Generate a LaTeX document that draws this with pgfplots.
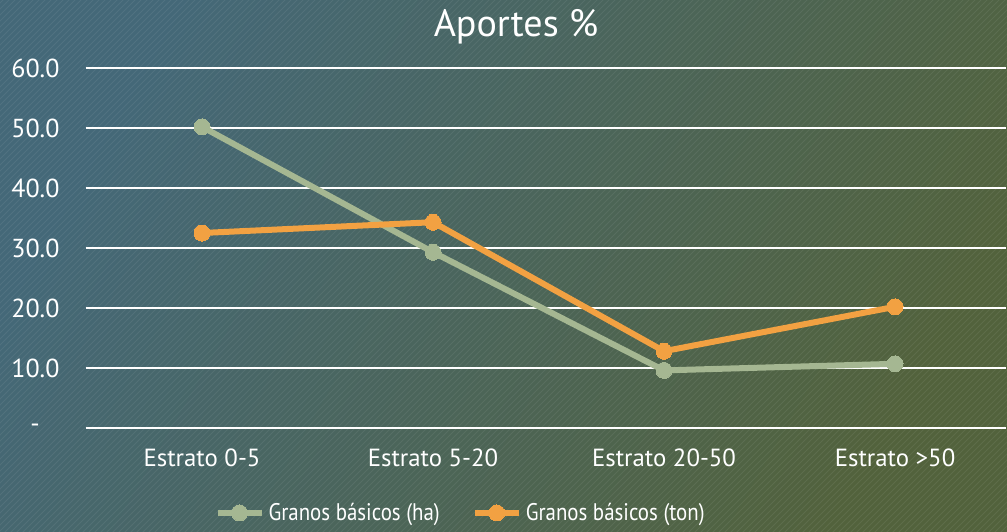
\documentclass[border=0pt]{standalone}
\usepackage{pgfplots}
\pgfplotsset{compat=1.18}
\usepackage{fontspec}
\setmainfont{PT Sans}
\usetikzlibrary{patterns}
\definecolor{bgA}{RGB}{68,104,120}
\definecolor{bgB}{RGB}{82,98,60}
\definecolor{sgreen}{RGB}{165,183,146}
\definecolor{sorange}{RGB}{242,161,66}
\begin{document}
\begin{tikzpicture}
\useasboundingbox (0,0) rectangle (503.5pt,265.5pt);
\shade[shading=axis, top color=bgA, bottom color=bgB, shading angle=60] (0,0) rectangle (503.5pt,265.5pt);
\fill[pattern=north east lines, pattern color=white, opacity=0.07] (0,0) rectangle (503.5pt,265.5pt);
\node[text=white, font=\fontsize{19}{22}\selectfont] at (258pt,252pt) {Aportes \%};
\begin{axis}[
  scale only axis,
  width=459.7pt, height=180pt,
  at={(43.25pt,51.5pt)}, anchor=south west,
  xmin=-0.5, xmax=3.48,
  ymin=0, ymax=60,
  clip=false,
  axis line style={draw=none},
  major tick length=0pt,
  ytick={0,10,20,30,40,50,60},
  yticklabels={-\hphantom{.0},10.0,20.0,30.0,40.0,50.0,60.0},
  xtick={0,1,2,3},
  xticklabels={Estrato 0-5,Estrato 5-20,Estrato 20-50,Estrato >50},
  ymajorgrids,
  grid style={white, line width=1pt},
  tick label style={text=white, font=\fontsize{12.4}{14}\selectfont},
  yticklabel style={font=\fontsize{13}{15}\selectfont, xshift=-10pt},
  xticklabel style={yshift=-7pt},
  /pgf/number format/assume math mode=true,
  legend columns=2,
  legend style={at={(0.408,-0.236)}, anchor=center, draw=none, fill=none,
    text=white, font=\fontsize{12}{14}\selectfont,
    /tikz/every even column/.append style={column sep=14pt},
    /tikz/every odd column/.append style={inner xsep=1pt}},
  legend image code/.code={\draw[mark repeat=2,mark phase=2,#1] plot coordinates {(0pt,0pt) (11pt,0pt) (22pt,0pt)};},
]
\addplot[sgreen, line width=3pt, mark=*, mark size=4pt, mark options={solid, line width=0pt}] coordinates {(0,50.2) (1,29.3) (2,9.6) (3,10.7)};
\addlegendentry{\scalebox{0.87}[1]{Granos básicos (ha)}}
\addplot[sorange, line width=3pt, mark=*, mark size=4pt, mark options={solid, line width=0pt}] coordinates {(0,32.5) (1,34.3) (2,12.8) (3,20.2)};
\addlegendentry{\scalebox{0.87}[1]{Granos básicos (ton)}}
\end{axis}
\end{tikzpicture}
\end{document}
